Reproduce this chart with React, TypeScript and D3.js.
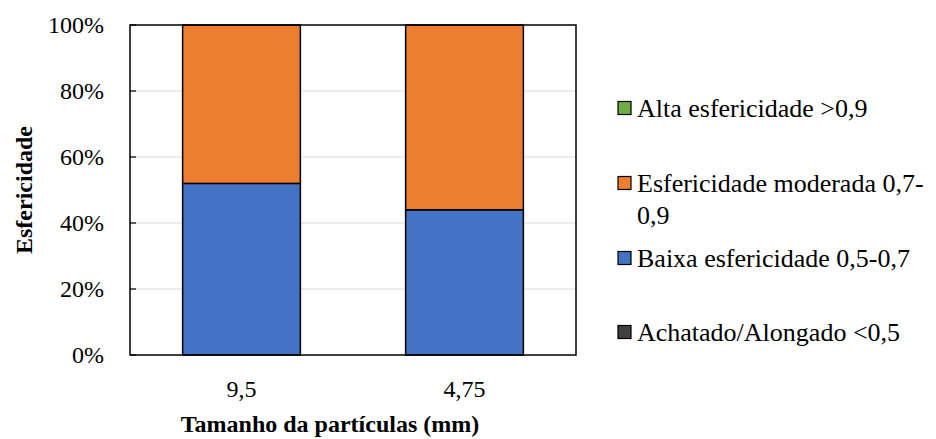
import React from "react";
import * as d3 from "d3";

// Particle size classes (mm) and sphericity shares (%) per class
const categories = ["9,5", "4,75"];
const seriesNames = [
  "Achatado/Alongado <0,5",
  "Baixa esfericidade 0,5-0,7",
  "Esfericidade moderada 0,7-0,9",
  "Alta esfericidade >0,9",
];
const achatado = [0, 0];
const baixa = [52, 44];
const moderada = [48, 56];
const alta = [0, 0];
const yTicks = [0, 20, 40, 60, 80, 100];

const colors = ["#404040", "#4472C4", "#ED7D31", "#70AD47"];

const W = 936;
const H = 439;
const plot = { left: 130, right: 576, top: 25, bottom: 355 };
const FONT = "Liberation Serif, Times New Roman, Times, DejaVu Serif, serif";

export default function App() {
  const seriesValues = [achatado, baixa, moderada, alta];
  const rows = categories.map((c, i) => {
    const r: Record<string, number | string> = { cat: c };
    seriesNames.forEach((s, k) => (r[s] = seriesValues[k][i]));
    return r;
  });
  const stacked = d3.stack<any>().keys(seriesNames)(rows);

  const x = d3
    .scaleBand<string>()
    .domain(categories)
    .range([plot.left, plot.right])
    .paddingInner(0.472)
    .paddingOuter(0.236);
  const y = d3.scaleLinear().domain([0, 100]).range([plot.bottom, plot.top]);

  // Legend listed top-down in reverse stacking order
  const legendOrder = [3, 2, 1, 0];
  const legendY = [108, 183, 258, 332];
  const legendLines = (name: string) =>
    name.startsWith("Esfericidade moderada")
      ? ["Esfericidade moderada 0,7-", "0,9"]
      : [name];

  const txt = { fontFamily: FONT } as React.CSSProperties;

  return (
    <svg
      width={W}
      height={H}
      style={{ position: "absolute", left: 0, top: 0, background: "#fff", fontFamily: FONT }}
    >
      <rect x={0} y={0} width={W} height={H} fill="#fff" />
      {/* gridlines */}
      {yTicks
        .filter((t) => t > 0 && t < 100)
        .map((t) => (
          <line
            key={"g" + t}
            x1={plot.left}
            x2={plot.right}
            y1={y(t)}
            y2={y(t)}
            stroke="#d9d9d9"
            strokeWidth={1}
          />
        ))}
      {/* stacked bars */}
      {stacked.map((layer, k) =>
        layer.map((d, i) => {
          const h = y(d[0]) - y(d[1]);
          if (h <= 0) return null;
          return (
            <rect
              key={`b${k}-${i}`}
              x={x(categories[i])!}
              y={y(d[1])}
              width={x.bandwidth()}
              height={h}
              fill={colors[k]}
              stroke="#000"
              strokeWidth={1.5}
            />
          );
        })
      )}
      {/* frame */}
      <rect
        x={plot.left}
        y={plot.top}
        width={plot.right - plot.left}
        height={plot.bottom - plot.top}
        fill="none"
        stroke="#000"
        strokeWidth={1.5}
      />
      {/* y ticks */}
      {yTicks.map((t) => (
        <g key={"t" + t}>
          <line
            x1={plot.left}
            x2={plot.left + 6}
            y1={y(t)}
            y2={y(t)}
            stroke="#000"
            strokeWidth={1.2}
          />
          <text
            x={104}
            y={y(t)}
            dy="0.35em"
            textAnchor="end"
            fontSize={24}
            fill="#000"
            style={txt}
          >
            {t}%
          </text>
        </g>
      ))}
      {/* x tick labels */}
      {categories.map((c) => (
        <text
          key={"x" + c}
          x={x(c)! + x.bandwidth() / 2}
          y={397}
          textAnchor="middle"
          fontSize={24}
          fill="#000"
          style={txt}
        >
          {c}
        </text>
      ))}
      {/* axis titles */}
      <text
        x={330}
        y={432}
        textAnchor="middle"
        fontSize={24}
        fontWeight="bold"
        fill="#000"
        style={txt}
      >
        Tamanho da partículas (mm)
      </text>
      <text
        transform={`translate(32, ${(plot.top + plot.bottom) / 2}) rotate(-90)`}
        textAnchor="middle"
        fontSize={24}
        fontWeight="bold"
        fill="#000"
        style={txt}
      >
        Esfericidade
      </text>
      {/* legend */}
      {legendOrder.map((k, idx) => {
        const cy = legendY[idx];
        const lines = legendLines(seriesNames[k]);
        return (
          <g key={"l" + k}>
            <rect
              x={618}
              y={cy - 6.5}
              width={13}
              height={13}
              fill={colors[k]}
              stroke="#000"
              strokeWidth={1.2}
            />
            <text x={637} y={cy} fontSize={26} fill="#000" style={txt}>
              {lines.map((ln, j) => (
                <tspan key={j} x={637} dy={j === 0 ? "0.35em" : 32}>
                  {ln}
                </tspan>
              ))}
            </text>
          </g>
        );
      })}
    </svg>
  );
}
